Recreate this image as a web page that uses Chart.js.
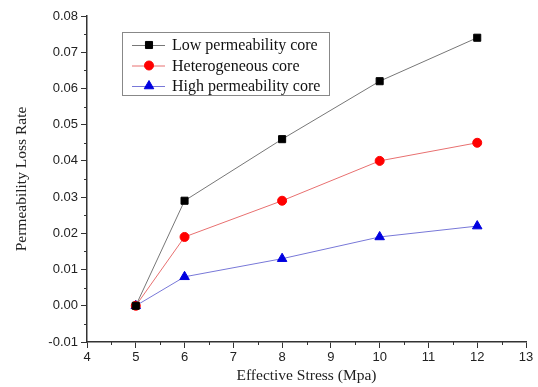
<!DOCTYPE html>
<html>
<head>
<meta charset="utf-8">
<script src="https://cdn.jsdelivr.net/npm/chart.js@4/dist/chart.umd.min.js"></script>
<style>
  html, body { margin: 0; padding: 0; background: #fff; }
  #wrap { width: 538px; height: 387px; }
</style>
</head>
<body>
<div id="wrap"><canvas id="lossChart"></canvas></div>
<script>
// data
const stress = [5, 6, 8, 10, 12];
const lowPerm = [0, 0.029, 0.046, 0.062, 0.074];
const hetero = [0, 0.019, 0.029, 0.040, 0.045];
const highPerm = [0, 0.008, 0.013, 0.019, 0.022];
const seriesNames = ['Low permeability core', 'Heterogeneous core', 'High permeability core'];

const axisColor = '#333';
const serif = "'Liberation Serif', 'Times New Roman', serif";
const sans = "'Liberation Sans', Arial, sans-serif";

const toPoints = vals => stress.map((s, i) => ({ x: s, y: vals[i] }));

const series = [
    { label: seriesNames[0], data: toPoints(lowPerm), line: '#777', fill: '#000', style: 'rect', r: 5 },
    { label: seriesNames[1], data: toPoints(hetero), line: '#e87070', fill: '#f00', style: 'circle', r: 4.5 },
    { label: seriesNames[2], data: toPoints(highPerm), line: '#7878d8', fill: '#0000e0', style: 'triangle', r: 5.5 }
];

// minor ticks halfway between the major ones
const minorTicks = {
    id: 'minorTicks',
    afterDraw(chart) {
        const ctx = chart.ctx;
        const xs = chart.scales.x, ys = chart.scales.y;
        ctx.save();
        ctx.strokeStyle = axisColor;
        ctx.lineWidth = 1;
        ctx.beginPath();
        for (let v = xs.min + 0.5; v < xs.max; v += 1) {
            const px = Math.round(xs.getPixelForValue(v)) + 0.5;
            ctx.moveTo(px, xs.top);
            ctx.lineTo(px, xs.top + 3);
        }
        for (let v = ys.min + 0.005; v < ys.max; v += 0.01) {
            const py = Math.round(ys.getPixelForValue(v)) + 0.5;
            ctx.moveTo(ys.right, py);
            ctx.lineTo(ys.right - 3, py);
        }
        ctx.stroke();
        ctx.restore();
    }
};

// boxed legend inside the plot, Origin style
const boxLegend = {
    id: 'boxLegend',
    afterDraw(chart) {
        const ctx = chart.ctx;
        const a = chart.chartArea;
        const x0 = a.left + 35, y0 = a.top + 16, w = 207, h = 63;
        ctx.save();
        ctx.strokeStyle = '#888';
        ctx.lineWidth = 1;
        ctx.strokeRect(x0 + 0.5, y0 + 0.5, w, h);
        ctx.font = '16px ' + serif;
        ctx.textBaseline = 'middle';
        ctx.fillStyle = '#111';
        series.forEach((s, i) => {
            const cy = y0 + 13 + i * 20.5;
            ctx.strokeStyle = s.line;
            ctx.beginPath();
            ctx.moveTo(x0 + 10, cy + 0.5);
            ctx.lineTo(x0 + 43, cy + 0.5);
            ctx.stroke();
            ctx.fillStyle = s.fill;
            ctx.strokeStyle = s.fill;
            Chart.helpers.drawPoint(ctx, { pointStyle: s.style, radius: s.r, borderWidth: 1, rotation: 0 }, x0 + 27, cy);
            ctx.fillStyle = '#111';
            ctx.fillText(s.label, x0 + 50, cy + 1);
        });
        ctx.restore();
    }
};

new Chart(document.getElementById('lossChart'), {
    type: 'line',
    data: {
        datasets: series.map(s => ({
            label: s.label,
            data: s.data,
            borderColor: s.line,
            borderWidth: 1,
            pointStyle: s.style,
            pointRadius: s.r,
            pointBackgroundColor: s.fill,
            pointBorderColor: s.fill,
            pointBorderWidth: 1,
            tension: 0
        }))
    },
    options: {
        responsive: true,
        maintainAspectRatio: false,
        animation: false,
        layout: { padding: { top: 16, right: 12, bottom: 0, left: 0 } },
        plugins: { legend: { display: false }, tooltip: { enabled: false } },
        scales: {
            x: {
                type: 'linear',
                min: 4, max: 13,
                afterFit: s => { s.height = 45; },
                border: { display: true, color: axisColor, width: 1.5 },
                grid: { drawOnChartArea: false, drawTicks: true, tickLength: 6, tickColor: axisColor },
                ticks: { stepSize: 1, padding: 2, color: '#222', font: { family: sans, size: 13 } },
                title: { display: true, text: 'Effective Stress (Mpa)', color: '#222', padding: { top: 0, bottom: 2 },
                         font: { family: serif, size: 15.5 } }
            },
            y: {
                min: -0.01, max: 0.08,
                afterFit: s => { s.width = 87; },
                border: { display: true, color: axisColor, width: 1.5 },
                grid: { drawOnChartArea: false, drawTicks: true, tickLength: 6, tickColor: axisColor },
                ticks: { stepSize: 0.01, padding: 3, color: '#222', font: { family: sans, size: 13 },
                         callback: v => v.toFixed(2) },
                title: { display: true, text: 'Permeability Loss Rate', color: '#222', padding: { top: 13, bottom: 0 },
                         font: { family: serif, size: 15.5 } }
            }
        }
    },
    plugins: [minorTicks, boxLegend]
});
</script>
</body>
</html>
